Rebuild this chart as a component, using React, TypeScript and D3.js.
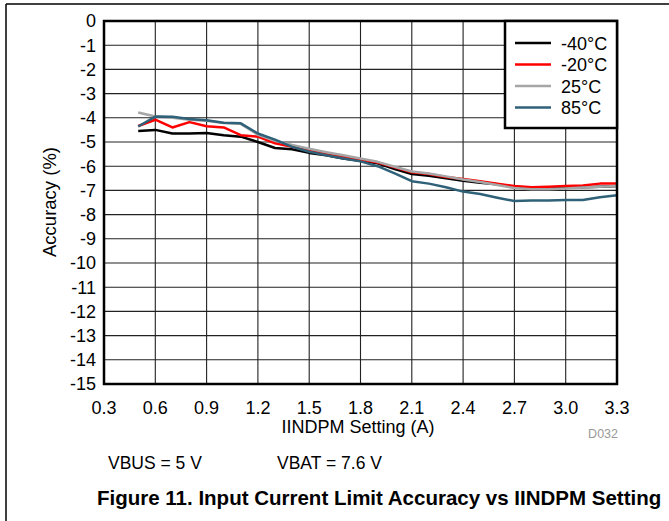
import React from "react";
import * as d3 from "d3";

const xValues = [0.5,0.6,0.7,0.8,0.9,1.0,1.1,1.2,1.3,1.4,1.5,1.6,1.7,1.8,1.9,2.0,2.1,2.2,2.3,2.4,2.5,2.6,2.7,2.8,2.9,3.0,3.1,3.2,3.3];
const seriesM40 = [-4.55,-4.5,-4.65,-4.65,-4.63,-4.72,-4.78,-5.0,-5.25,-5.3,-5.45,-5.55,-5.68,-5.78,-5.88,-6.12,-6.32,-6.4,-6.5,-6.6,-6.68,-6.75,-6.85,-6.9,-6.9,-6.88,-6.87,-6.85,-6.82];
const seriesM20 = [-4.34,-4.08,-4.4,-4.18,-4.35,-4.4,-4.72,-4.78,-5.05,-5.2,-5.35,-5.48,-5.6,-5.72,-5.85,-6.05,-6.25,-6.32,-6.45,-6.53,-6.62,-6.72,-6.82,-6.87,-6.85,-6.82,-6.8,-6.72,-6.72];
const series25 = [-3.78,-3.95,-4.0,-4.08,-4.12,-4.22,-4.25,-4.7,-4.95,-5.12,-5.28,-5.42,-5.55,-5.68,-5.82,-6.02,-6.22,-6.3,-6.42,-6.55,-6.65,-6.78,-6.9,-6.95,-6.95,-6.92,-6.88,-6.85,-6.82];
const series85 = [-4.36,-3.95,-3.96,-4.05,-4.1,-4.2,-4.23,-4.65,-4.9,-5.2,-5.4,-5.55,-5.68,-5.8,-6.0,-6.3,-6.62,-6.72,-6.87,-7.05,-7.15,-7.3,-7.44,-7.42,-7.42,-7.4,-7.4,-7.28,-7.2];
const seriesNames = ["-40°C", "-20°C", "25°C", "85°C"];
const seriesColors = ["#000000", "#ff0000", "#a6a6a6", "#2f6178"];
const xTicks = [0.3,0.6,0.9,1.2,1.5,1.8,2.1,2.4,2.7,3.0,3.3];
const yTicks = [0,-1,-2,-3,-4,-5,-6,-7,-8,-9,-10,-11,-12,-13,-14,-15];

const left = 104, right = 617, top = 21, bottom = 384;
const font = "Arial, 'Liberation Sans', sans-serif";

export default function App() {
  const x = d3.scaleLinear().domain([0.3, 3.3]).range([left, right]);
  const y = d3.scaleLinear().domain([0, -15]).range([top, bottom]);
  const all = [seriesM40, seriesM20, series25, series85];
  const line = d3.line<number>().x((_, i) => x(xValues[i])).y((d) => y(d));
  const lx0 = 515, lx1 = 551, ly0 = 43, ldy = 21.5;
  return (
    <svg width={669} height={521} style={{ position: "absolute", left: 0, top: 0, background: "#fff" }} fontFamily={font}>
      <line x1={6} y1={4} x2={669} y2={4} stroke="#000" strokeWidth={1.5} />
      <line x1={6} y1={4} x2={6} y2={521} stroke="#000" strokeWidth={1.5} />
      {xTicks.slice(1, -1).map((t) => (
        <line key={"gx" + t} x1={x(t)} x2={x(t)} y1={top} y2={bottom} stroke="#222" strokeWidth={1.1} />
      ))}
      {yTicks.slice(1, -1).map((t) => (
        <line key={"gy" + t} x1={left} x2={right} y1={y(t)} y2={y(t)} stroke="#222" strokeWidth={1.1} />
      ))}
      {all.map((s, k) => (
        <path key={k} d={line(s) || ""} fill="none" stroke={seriesColors[k]} strokeWidth={2.5} strokeLinejoin="round" />
      ))}
      <rect x={left} y={top} width={right - left} height={bottom - top} fill="none" stroke="#000" strokeWidth={2.5} />
      <rect x={505} y={top} width={right - 505} height={107} fill="#fff" stroke="#000" strokeWidth={2.5} />
      {seriesNames.map((n, k) => (
        <g key={n}>
          <line x1={lx0} x2={lx1} y1={ly0 + k * ldy} y2={ly0 + k * ldy} stroke={seriesColors[k]} strokeWidth={2.5} />
          <text x={561} y={ly0 + k * ldy + 6.5} fontSize={18}>{n}</text>
        </g>
      ))}
      {yTicks.map((t) => (
        <text key={"ty" + t} x={96} y={y(t) + 6.4} fontSize={18} textAnchor="end">{t}</text>
      ))}
      {xTicks.map((t) => (
        <text key={"tx" + t} x={x(t)} y={413.5} fontSize={18} textAnchor="middle">{t.toFixed(1)}</text>
      ))}
      <text x={358} y={433} fontSize={18} textAnchor="middle">IINDPM Setting (A)</text>
      <text transform={`translate(55.5,202) rotate(-90)`} fontSize={18.5} textAnchor="middle">Accuracy (%)</text>
      <text x={618} y={438} fontSize={12.5} fill="#999" textAnchor="end">D032</text>
      <text x={108} y={469} fontSize={17.5}>VBUS = 5 V</text>
      <text x={277} y={469} fontSize={17.5}>VBAT = 7.6 V</text>
      <text x={97} y={505} fontSize={20.5} fontWeight="bold">Figure 11. Input Current Limit Accuracy vs IINDPM Setting</text>
    </svg>
  );
}
